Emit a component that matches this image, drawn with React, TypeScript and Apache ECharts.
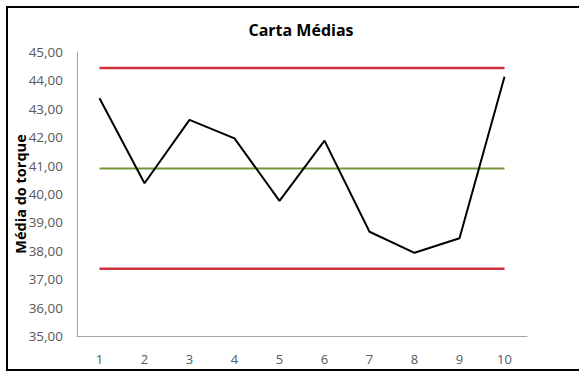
import React, { useEffect, useRef } from "react";
import * as echarts from "echarts";

const categories = ["1", "2", "3", "4", "5", "6", "7", "8", "9", "10"];
const medias = [43.37, 40.38, 42.61, 41.96, 39.76, 41.88, 38.67, 37.93, 38.44, 44.13];
const lsc = [44.44, 44.44, 44.44, 44.44, 44.44, 44.44, 44.44, 44.44, 44.44, 44.44];
const lc = [40.9, 40.9, 40.9, 40.9, 40.9, 40.9, 40.9, 40.9, 40.9, 40.9];
const lic = [37.37, 37.37, 37.37, 37.37, 37.37, 37.37, 37.37, 37.37, 37.37, 37.37];

const FONT = "'Open Sans', 'Noto Sans', sans-serif";

export default function App() {
  const ref = useRef<HTMLDivElement>(null);
  useEffect(() => {
    if (!ref.current) return;
    const chart = echarts.init(ref.current, undefined, { renderer: "svg" });
    chart.setOption({
      animation: false,
      backgroundColor: "#ffffff",
      title: {
        text: "Carta Médias",
        left: 296,
        top: 17,
        textAlign: "center",
        textStyle: { fontFamily: FONT, fontSize: 16, fontWeight: "bold", color: "#000" },
      },
      graphic: [
        {
          type: "rect",
          shape: { x: 7, y: 7, width: 590, height: 363 },
          style: { fill: "none", stroke: "#000", lineWidth: 2 },
          silent: true,
        },
      ],
      grid: { left: 77, right: 52, top: 52, bottom: 36, containLabel: false, outerBoundsMode: "none" },
      xAxis: {
        type: "category",
        data: categories,
        boundaryGap: true,
        axisLine: { lineStyle: { color: "#a6a6a6", width: 1 } },
        axisTick: { show: false },
        axisLabel: { fontFamily: FONT, fontSize: 13, color: "#595959", margin: 16 },
      },
      yAxis: {
        type: "value",
        min: 35,
        max: 45,
        interval: 1,
        name: "Média do torque",
        nameLocation: "middle",
        nameGap: 49,
        nameMoveOverlap: false,
        nameTextStyle: { fontFamily: FONT, fontSize: 14.5, fontWeight: "bold", color: "#000" },
        axisLine: { show: true, lineStyle: { color: "#a6a6a6", width: 1 } },
        axisTick: { show: false },
        splitLine: { show: false },
        axisLabel: {
          fontFamily: FONT,
          fontSize: 13.5,
          color: "#595959",
          margin: 14,
          formatter: (v: number) => v.toFixed(2).replace(".", ","),
        },
      },
      series: [
        {
          type: "line",
          data: lsc,
          symbol: "none",
          lineStyle: { color: "#d0303c", width: 2.5 },
          z: 2,
        },
        {
          type: "line",
          data: lc,
          symbol: "none",
          lineStyle: { color: "#76963a", width: 2 },
          z: 2,
        },
        {
          type: "line",
          data: lic,
          symbol: "none",
          lineStyle: { color: "#d0303c", width: 2.5 },
          z: 2,
        },
        {
          type: "line",
          data: medias,
          symbol: "none",
          lineStyle: { color: "#000000", width: 2 },
          z: 3,
        },
      ],
    });
    return () => chart.dispose();
  }, []);
  return (
    <div
      ref={ref}
      style={{ position: "absolute", left: 0, top: 0, width: 579, height: 372 }}
    />
  );
}
